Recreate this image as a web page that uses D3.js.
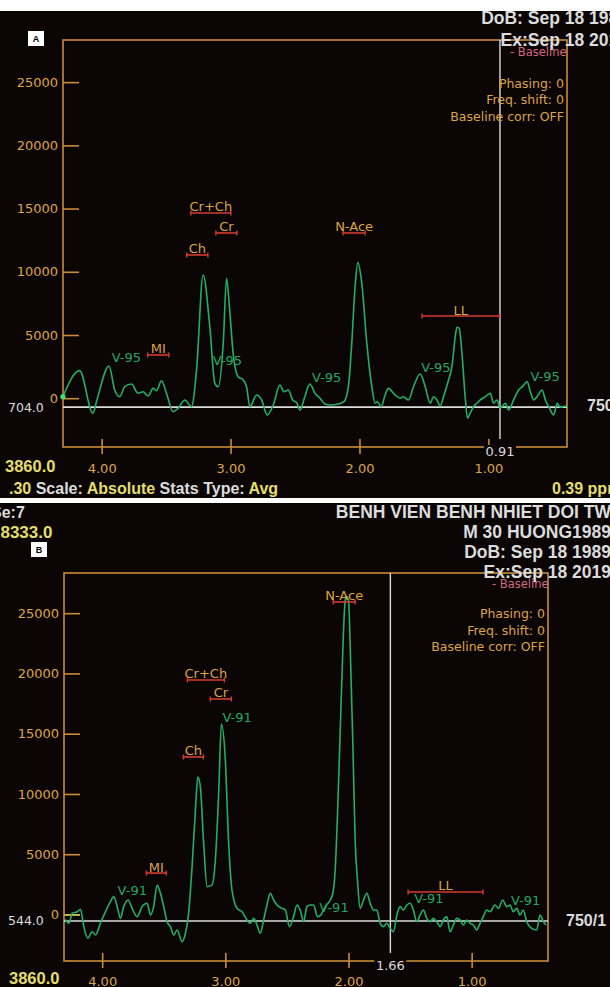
<!DOCTYPE html>
<html><head><meta charset="utf-8">
<script src="https://cdn.jsdelivr.net/npm/d3@7"></script>
<style>html,body{margin:0;padding:0;background:#fff;} svg{display:block;}</style>
</head><body>
<script>
// ---------- DATA ----------
const ppmA = [4.301,4.171,4.068,4.037,3.943,3.899,3.860,3.821,3.769,3.718,3.679,3.640,3.601,3.575,3.536,3.497,3.446,3.407,3.355,3.303,3.264,3.213,3.161,3.122,3.096,3.057,3.031,3.007,2.980,2.941,2.902,2.876,2.850,2.798,2.759,2.716,2.669,2.617,2.586,2.552,2.518,2.487,2.461,2.424,2.385,2.345,2.306,2.267,2.228,2.164,2.120,2.086,2.060,2.034,2.013,1.982,1.943,1.904,1.879,1.861,1.832,1.801,1.776,1.723,1.684,1.659,1.620,1.581,1.529,1.490,1.451,1.426,1.399,1.374,1.348,1.309,1.283,1.257,1.244,1.226,1.205,1.180,1.162,1.141,1.115,1.089,1.063,1.024,0.985,0.960,0.933,0.907,0.869,0.843,0.804,0.765,0.731,0.700,0.674,0.648,0.622,0.583,0.558,0.532,0.493,0.467,0.441,0.402,0.389];
const intensityA = [120,2180,-1190,-140,2550,650,120,910,1120,390,510,170,780,590,1380,390,-1070,-800,-140,-670,2230,9750,5660,1180,910,4340,9480,6980,3550,1700,1440,910,-670,250,-140,-1330,-540,1040,510,650,-140,-360,-930,120,1120,390,0,-460,-540,-460,-280,910,4340,8820,10720,9090,4340,910,-400,-280,-670,250,780,250,0,120,-140,910,1910,910,-400,120,-140,-620,120,1440,2490,4860,5610,5530,3550,120,-1590,-1190,-670,-400,-140,120,390,-400,-140,-800,-400,-930,-140,650,970,1310,510,-140,120,650,-140,-670,-1330,-400,-720,-620,-670];

const ppmB = [4.298,4.271,4.243,4.203,4.176,4.149,4.117,4.081,4.054,4.014,3.973,3.933,3.906,3.878,3.852,3.825,3.789,3.757,3.716,3.676,3.635,3.608,3.582,3.554,3.527,3.500,3.473,3.446,3.419,3.392,3.351,3.324,3.298,3.270,3.243,3.223,3.203,3.176,3.148,3.108,3.081,3.054,3.032,3.000,2.973,2.946,2.905,2.865,2.824,2.797,2.770,2.743,2.716,2.689,2.662,2.635,2.608,2.581,2.540,2.513,2.479,2.446,2.418,2.392,2.365,2.337,2.311,2.284,2.251,2.224,2.189,2.148,2.127,2.108,2.089,2.067,2.045,2.029,2.019,2.000,1.986,1.964,1.946,1.927,1.905,1.878,1.851,1.824,1.797,1.770,1.743,1.716,1.689,1.662,1.635,1.607,1.581,1.554,1.526,1.500,1.473,1.445,1.418,1.392,1.364,1.337,1.311,1.283,1.256,1.230,1.202,1.175,1.148,1.121,1.094,1.067,1.040,1.013,0.986,0.959,0.932,0.905,0.878,0.851,0.810,0.783,0.748,0.715,0.689,0.662,0.634,0.607,0.581,0.553,0.513,0.472,0.445,0.417,0.396];
const intensityB = [-400,-730,100,230,430,-1010,-1970,-1430,-1700,-730,230,1060,1480,650,-320,650,1200,510,-180,650,930,-40,650,2450,1760,650,-600,-1010,-1700,-1290,-2260,-1560,100,3970,8670,11410,10600,5910,2310,2450,4520,10060,15810,12820,5910,2030,510,230,-460,-730,-320,-870,-1560,-460,790,1760,1200,790,510,370,-1010,-180,790,370,-600,650,790,790,-180,-40,650,1200,1760,3690,8400,15310,22220,25820,26400,26090,22220,13920,6180,2860,510,1200,1760,930,370,370,-730,-1010,-730,-1150,-1430,-40,650,370,790,930,370,-600,-40,370,-320,-600,-320,-600,-1010,-460,-180,-1430,-870,-320,-460,-870,-460,-730,-870,-1290,-730,-180,370,230,790,510,1200,650,790,230,510,-40,370,-600,-1150,-1290,-40,-600,-870];

const yTicks = [0,5000,10000,15000,20000,25000];
const xTicks = [4,3,2,1];
const yDomain = [-3860, 28333];

// metabolite integration ranges: name, ppm from, ppm to, marker level
const peakNames = ["Cr+Ch","Cr","Ch","N-Ace","MI","LL"];
const peakFromA = [3.308,3.114,3.340,2.127,3.643,1.514];
const peakToA   = [2.998,2.951,3.176,1.956,3.479,0.915];
const peakLevelA= [14650,13070,11330,13070,3420,6500];
const peakFromB = [3.308,3.122,3.341,2.124,3.641,1.516];
const peakToB   = [3.008,2.951,3.178,1.946,3.479,0.908];
const peakLevelB= [19460,17880,13070,25930,3440,1870];

// voxel annotations: ppm / level
const voxPpmA = [3.922,3.138,2.368,1.521,0.674];
const voxValA = [2860,2630,1280,2070,1360];
const voxPpmB = [3.875,3.024,2.237,1.467,0.681];
const voxValB = [1620,15970,210,950,790];

const baselineA = -704, baselineB = -544;
const cursorA = 0.91, cursorB = 1.66;

// ---------- STYLE ----------
const W = 610, H = 987;
const C = {bg:"#0b0505", frame:"#c98d38", orange:"#dda444", green:"#22b163", vgreen:"#23a862",
  red:"#d63c2c", white:"#dcdcdc", yellow:"#e4df6a", pink:"#d4697e"};
const SANS = "'DejaVu Sans', sans-serif";
const BOLD = "'Liberation Sans', Arial, sans-serif";

const svg = d3.select("body").append("svg").attr("width", W).attr("height", H);

function panel(cfg){
  const g = svg.append("g");
  g.append("rect").attr("x",0).attr("y",cfg.top).attr("width",W).attr("height",cfg.bottom-cfg.top).attr("fill",C.bg);
  const x = d3.scaleLinear().domain(cfg.xDomain).range([cfg.fx0, cfg.fx1]);
  const y = d3.scaleLinear().domain(yDomain).range([cfg.fy1, cfg.fy0]);

  // y axis
  g.append("g").attr("transform",`translate(${cfg.fx0},0)`)
    .call(d3.axisLeft(y).tickValues(yTicks).tickSizeInner(-16).tickSizeOuter(0).tickPadding(5).tickFormat(d3.format("d")))
    .call(a=>a.select(".domain").remove())
    .call(a=>a.selectAll("line").attr("stroke",d=> (d===0 && cfg.zeroYellow)? C.yellow : C.frame).attr("stroke-width",1.6))
    .call(a=>a.selectAll("text").attr("fill",C.orange).attr("font-family",SANS).attr("font-size",13));

  // x axis
  g.append("g").attr("transform",`translate(0,${cfg.fy1})`)
    .call(d3.axisBottom(x).tickValues(xTicks).tickSizeInner(7).tickSizeOuter(0).tickPadding(cfg.xPad).tickFormat(d3.format(".2f")))
    .call(a=>a.select(".domain").remove())
    .call(a=>a.selectAll("line").attr("y1",-8).attr("stroke",C.frame).attr("stroke-width",1.6))
    .call(a=>a.selectAll("text").attr("fill",C.orange).attr("font-family",SANS).attr("font-size",13));

  // frame
  g.append("rect").attr("x",cfg.fx0).attr("y",cfg.fy0).attr("width",cfg.fx1-cfg.fx0).attr("height",cfg.fy1-cfg.fy0)
    .attr("fill","none").attr("stroke",C.frame).attr("stroke-width",1.6);

  // baseline
  g.append("line").attr("x1",cfg.fx0).attr("x2",cfg.fx1).attr("y1",y(cfg.baseline)).attr("y2",y(cfg.baseline))
    .attr("stroke",C.white).attr("stroke-width",1.6);

  // cursor
  g.append("line").attr("x1",x(cfg.cursor)).attr("x2",x(cfg.cursor)).attr("y1",cfg.fy0).attr("y2",cfg.fy1-8)
    .attr("stroke",C.white).attr("stroke-width",1.4);
  g.append("rect").attr("x",x(cfg.cursor)-16).attr("y",cfg.fy1-2).attr("width",32).attr("height",12).attr("fill",C.bg);
  g.append("text").attr("x",x(cfg.cursor)).attr("y",cfg.fy1+9).attr("text-anchor","middle")
    .attr("font-family",SANS).attr("font-size",13).attr("fill",C.white).text(cfg.cursor.toFixed(2));

  // spectrum
  const pts = cfg.ppm.map((p,i)=>[p,cfg.val[i]]);
  g.append("path").datum(pts)
    .attr("d", d3.line().x(d=>x(d[0])).y(d=>y(d[1])).curve(d3.curveMonotoneX))
    .attr("fill","none").attr("stroke",C.green).attr("stroke-width",1.6).attr("stroke-linejoin","round");
  if (cfg.startDot) g.append("circle").attr("cx",x(pts[0][0])).attr("cy",y(pts[0][1])).attr("r",2.6).attr("fill","#3ee07a");

  // voxel labels
  cfg.voxPpm.forEach((p,i)=>{
    g.append("text").attr("x",x(p)).attr("y",y(cfg.voxVal[i])).attr("font-family",SANS).attr("font-size",13)
      .attr("fill",C.vgreen).text(cfg.voxText);
  });

  // metabolite markers
  peakNames.forEach((n,i)=>{
    const xa = x(cfg.pFrom[i]), xb = x(cfg.pTo[i]), yy = y(cfg.pLevel[i]);
    g.append("line").attr("x1",xa).attr("x2",xb).attr("y1",yy).attr("y2",yy).attr("stroke",C.red).attr("stroke-width",1.6);
    [xa,xb].forEach(xx=>g.append("line").attr("x1",xx).attr("x2",xx).attr("y1",yy-2.5).attr("y2",yy+2.5).attr("stroke",C.red).attr("stroke-width",1.4));
    g.append("text").attr("x",(xa+xb)/2).attr("y",yy-1.5).attr("text-anchor","middle").attr("font-family",SANS)
      .attr("font-size",13).attr("fill",C.orange).text(n);
  });

  // letter box
  g.append("rect").attr("x",cfg.box[0]).attr("y",cfg.box[1]).attr("width",16).attr("height",15).attr("fill","#fff");
  g.append("text").attr("x",cfg.box[0]+8).attr("y",cfg.box[1]+11).attr("text-anchor","middle").attr("font-family",BOLD)
    .attr("font-weight","bold").attr("font-size",9).attr("fill","#000").text(cfg.letter);

  // info legend
  g.append("text").attr("x",cfg.legX).attr("y",cfg.legY).attr("font-family",SANS).attr("font-size",11.5).attr("fill",C.pink).text("- Baseline");
  ["Phasing: 0","Freq. shift: 0","Baseline corr: OFF"].forEach((t,i)=>{
    g.append("text").attr("x",cfg.infoX).attr("y",cfg.infoY[i]).attr("text-anchor","end").attr("font-family",SANS)
      .attr("font-size",12.5).attr("fill",C.orange).text(t);
  });
  return {g,x,y};
}

function txt(x,y,s,opt){
  const t = svg.append("text").attr("x",x).attr("y",y).text(s)
    .attr("font-family", opt.bold ? BOLD : SANS).attr("font-size",opt.size||13)
    .attr("fill",opt.fill||C.white);
  if (opt.bold) t.attr("font-weight","bold");
  if (opt.anchor) t.attr("text-anchor",opt.anchor);
  return t;
}

// ---------- PANEL A ----------
panel({top:11,bottom:498,fx0:63,fx1:567,fy0:40,fy1:447,xDomain:[4.30,0.39],xPad:10,
  ppm:ppmA,val:intensityA,baseline:baselineA,cursor:cursorA,startDot:true,
  voxPpm:voxPpmA,voxVal:voxValA,voxText:"V-95",
  pFrom:peakFromA,pTo:peakToA,pLevel:peakLevelA,
  box:[28,31],letter:"A",legX:510,legY:56,infoX:564,infoY:[88,104,121]});
txt(628,24,"DoB: Sep 18 1989",{bold:true,size:17.5,anchor:"end"});
txt(628,46,"Ex:Sep 18 2019",{bold:true,size:17.5,anchor:"end"});
txt(8,412,"704.0",{size:12.5});
txt(587,411,"750/1",{bold:true,size:16});
txt(5,472,"3860.0",{bold:true,size:16.5,fill:C.yellow});
const st = txt(9,494,"",{bold:true,size:16});
[[".30 ",C.yellow],["Scale: ",C.white],["Absolute ",C.yellow],["Stats Type: ",C.white],["Avg",C.yellow]]
  .forEach(([s,c])=>st.append("tspan").attr("fill",c).text(s));
txt(552,494,"0.39 ppm",{bold:true,size:16,fill:C.yellow});

// ---------- PANEL B ----------
panel({top:503,bottom:987,fx0:64,fx1:548,fy0:573,fy1:961,xDomain:[4.31,0.38],xPad:9,
  ppm:ppmB,val:intensityB,baseline:baselineB,cursor:cursorB,startDot:false,zeroYellow:true,
  voxPpm:voxPpmB,voxVal:voxValB,voxText:"V-91",
  pFrom:peakFromB,pTo:peakToB,pLevel:peakLevelB,
  box:[31,542],letter:"B",legX:492,legY:588,infoX:545,infoY:[618,635,651]});
txt(-9,518,"Se:7",{bold:true,size:16});
txt(-9,538,"28333.0",{bold:true,size:17,fill:C.yellow});
txt(611,518,"BENH VIEN BENH NHIET DOI TW",{bold:true,size:17.5,anchor:"end"});
txt(611,538,"M 30 HUONG1989",{bold:true,size:17.5,anchor:"end"});
txt(611,558,"DoB: Sep 18 1989",{bold:true,size:17.5,anchor:"end"});
txt(611,578,"Ex:Sep 18 2019",{bold:true,size:17.5,anchor:"end"});
txt(8,925,"544.0",{size:12.5});
txt(566,926,"750/1",{bold:true,size:16});
txt(9,984,"3860.0",{bold:true,size:16.5,fill:C.yellow});
</script>
</body></html>
